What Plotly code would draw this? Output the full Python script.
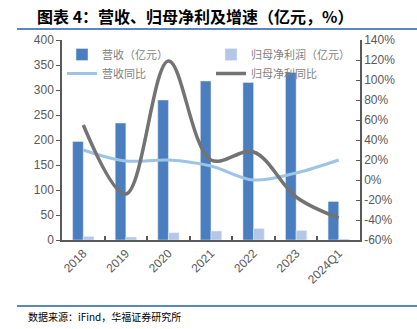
import plotly.graph_objects as go

categories = ["2018", "2019", "2020", "2021", "2022", "2023", "2024Q1"]
revenue = [197, 234, 280, 318, 315, 335, 77]
net_profit = [7, 6, 14.5, 18, 23, 19, 2]
revenue_yoy = [30, 19, 20, 14, 0, 7, 20]
profit_yoy = [55, -14, 119, 20, 28, -17, -38]

left_ticks = [0, 50, 100, 150, 200, 250, 300, 350, 400]
right_ticks = [-60, -40, -20, 0, 20, 40, 60, 80, 100, 120, 140]

tick_font = dict(family="Liberation Sans, Arial, sans-serif", size=12, color="#595959")
cjk = "Noto Sans CJK SC"
rule_color = "#5b87c8"

fig = go.Figure()
fig.add_trace(go.Bar(x=categories, y=revenue, name="营收（亿元）", marker_color="#4a7ebf",
                     yaxis="y"))
fig.add_trace(go.Bar(x=categories, y=net_profit, name="归母净利润（亿元）", marker_color="#b4c7e7",
                     yaxis="y"))
fig.add_trace(go.Scatter(x=categories, y=revenue_yoy, name="营收同比", mode="lines",
                         line=dict(color="#9dc3e6", width=3, shape="spline", smoothing=1.0),
                         yaxis="y2"))
fig.add_trace(go.Scatter(x=categories, y=profit_yoy, name="归母净利同比", mode="lines",
                         line=dict(color="#737373", width=3.5, shape="spline", smoothing=1.0),
                         yaxis="y2"))

divider = dict(text=".", xref="paper", yref="paper", x=0.52, xanchor="center",
               yanchor="middle", showarrow=False, width=400, height=2, borderpad=0,
               borderwidth=0, bgcolor=rule_color, font=dict(size=2, color=rule_color))

fig.update_layout(
    width=417, height=329,
    margin=dict(l=62, r=57, t=40, b=89),
    paper_bgcolor="white", plot_bgcolor="white",
    barmode="group", bargap=0.5, bargroupgap=0,
    showlegend=True,
    legend=dict(orientation="h", x=0, y=1.0, xanchor="left", yanchor="top",
                entrywidth=0.5, entrywidthmode="fraction",
                bgcolor="rgba(0,0,0,0)",
                font=dict(family=cjk, size=11, color="#7f7f7f")),
    xaxis=dict(type="category", tickangle=-45, tickfont=tick_font,
               showline=True, linecolor="#595959", linewidth=1.5,
               ticks="inside", tickson="boundaries", ticklen=4, tickwidth=1.5, tickcolor="#595959",
               showgrid=False),
    yaxis=dict(range=[0, 400], tickvals=left_ticks, tickfont=tick_font,
               showline=True, linecolor="#595959", linewidth=1.5,
               ticks="outside", ticklen=4, tickcolor="#595959",
               showgrid=False, zeroline=False),
    yaxis2=dict(range=[-60, 140], tickvals=right_ticks,
                ticktext=[f"{v}%" for v in right_ticks], tickfont=tick_font,
                overlaying="y", side="right",
                showline=True, linecolor="#595959", linewidth=1.5,
                ticks="inside", ticklen=4, tickcolor="#595959",
                showgrid=False, zeroline=False),
    annotations=[
        dict(text="<b>图表 4：营收、归母净利及增速（亿元，%）</b>", xref="paper", yref="paper",
             x=-0.09, y=1.0 + 24 / 200, xanchor="left", yanchor="middle", showarrow=False,
             font=dict(family=cjk, size=16, color="#000000")),
        dict(text="数据来源：iFind，华福证券研究所", xref="paper", yref="paper",
             x=-0.12, y=-76 / 200, xanchor="left", yanchor="middle", showarrow=False,
             font=dict(family=cjk, size=10, color="#000000")),
        dict(divider, y=1.0 + 11 / 200),
        dict(divider, y=-66 / 200),
    ],
)

# divider lines under the title and above the source note (shape fallback)
for yy in (1.0 + 11 / 200, -66 / 200):
    fig.add_shape(type="line", xref="paper", yref="paper", x0=-0.15, x1=1.2,
                  y0=yy, y1=yy, line=dict(color=rule_color, width=2), layer="below")

fig.write_html("out.html")
